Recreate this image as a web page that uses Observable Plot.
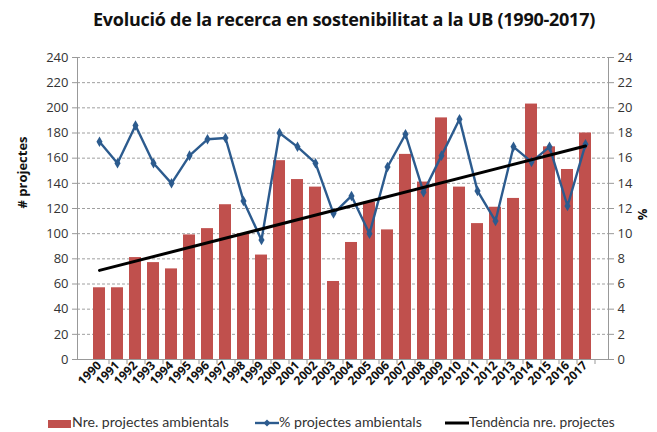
<!DOCTYPE html>
<html>
<head>
<meta charset="utf-8">
<script src="https://cdn.jsdelivr.net/npm/d3@7"></script>
<script src="https://cdn.jsdelivr.net/npm/@observablehq/plot@0.6"></script>
<style>
  body { margin: 0; background: #fff; font-family: "Open Sans", "Liberation Sans", sans-serif; }
  #wrap { width: 657px; height: 432px; position: relative; }
  #title { position: absolute; left: 0; top: 7px; width: 688px; text-align: center; font-weight: bold; font-size: 18px; color: #111; letter-spacing: -0.25px; }
  #chart { position: absolute; left: 0; top: 40px; }
  #legend { position: absolute; left: 0; top: 412px; width: 657px; height: 20px; font-family: Lato, "Open Sans", sans-serif; font-size: 14px; color: #333; }
  .li { position: absolute; top: 0px; height: 20px; display: flex; align-items: center; white-space: nowrap; }
</style>
</head>
<body>
<div id="wrap">
  <div id="title">Evolució de la recerca en sostenibilitat a la UB (1990-2017)</div>
  <div id="chart"></div>
  <div id="legend"></div>
</div>
<script>
const years = ["1990","1991","1992","1993","1994","1995","1996","1997","1998","1999","2000","2001","2002","2003","2004","2005","2006","2007","2008","2009","2010","2011","2012","2013","2014","2015","2016","2017"];
const projectes = [57,57,81,77,72,99,104,123,100,83,158,143,137,62,93,125,103,163,141,192,137,108,121,128,203,169,151,180];
const percentatge = [17.3,15.6,18.6,15.6,14.0,16.2,17.5,17.6,12.6,9.5,18.0,16.9,15.6,11.6,13.0,10.0,15.3,17.9,13.3,16.2,19.1,13.4,11.0,16.9,15.7,16.9,12.2,17.1];
const leftTicks = [0,20,40,60,80,100,120,140,160,180,200,220,240];
const rightTicks = [0,2,4,6,8,10,12,14,16,18,20,22,24];

const barColor = "#C0504D";
const lineColor = "#2C5B8E";

const data = years.map((y, i) => ({year: y, n: projectes[i], pct: percentatge[i]}));

// least-squares trend of the project counts
const n = projectes.length;
const mx = d3.mean(d3.range(n)), my = d3.mean(projectes);
const slope = d3.sum(d3.range(n), i => (i - mx) * (projectes[i] - my)) / d3.sum(d3.range(n), i => (i - mx) ** 2);
const trend = [0, n - 1].map(i => ({year: years[i], v: my + slope * (i - mx)}));

const chart = Plot.plot({
  width: 657,
  height: 372,
  marginLeft: 77,
  marginRight: 49,
  marginTop: 17,
  marginBottom: 53,
  style: {fontFamily: "'Open Sans', 'Liberation Sans', sans-serif", fontSize: "12.5px", color: "#333"},
  x: {domain: years, padding: 0.32, label: null},
  y: {domain: [0, 240], label: null},
  marks: [
    Plot.gridY(leftTicks, {stroke: "#777", strokeOpacity: 0.7, strokeDasharray: "3,2"}),
    Plot.barY(data, {x: "year", y: "n", fill: barColor}),
    Plot.ruleY([0], {stroke: "#999"}),
    Plot.frame({anchor: "left", stroke: "#999"}),
    Plot.frame({anchor: "right", stroke: "#999"}),
    Plot.line(data, {x: "year", y: d => d.pct * 10, stroke: lineColor, strokeWidth: 2.4}),
    Plot.dot(data, {x: "year", y: d => d.pct * 10, symbol: "diamond", r: 3.2, fill: lineColor}),
    Plot.line(trend, {x: "year", y: "v", stroke: "#000", strokeWidth: 3}),
    Plot.axisY({anchor: "left", ticks: leftTicks, tickSize: 5, tickPadding: 4, stroke: "#999", fontSize: 13, label: null}),
    Plot.axisY({anchor: "right", ticks: leftTicks, tickFormat: (d) => rightTicks[leftTicks.indexOf(d)], tickSize: 5, tickPadding: 4, stroke: "#999", fontSize: 13, label: null}),
    Plot.axisX({tickRotate: -45, tickSize: 0, tickPadding: 4, fontWeight: "bold", fontSize: 12, fill: "#111", label: null}),
    Plot.ruleX(years, {x: d => d, dx: 9.5, y1: 0, y2: 0, insetBottom: -5, stroke: "#999"}),
    Plot.text(["# projectes"], {frameAnchor: "left", dx: -55, rotate: -90, fontWeight: "bold", fontSize: 13, fill: "#111"}),
    Plot.text(["%"], {frameAnchor: "right", dx: 34, rotate: -90, fontWeight: "bold", fontSize: 13, fill: "#111"})
  ]
});
document.getElementById("chart").appendChild(chart);

const legendItems = [
  {label: "Nre. projectes ambientals", type: "bar", left: 48, width: 157},
  {label: "% projectes ambientals", type: "marker", left: 255, width: 143},
  {label: "Tendència nre. projectes", type: "trend", left: 445, width: 146}
];
const legend = d3.select("#legend");
const ctx = document.createElement("canvas").getContext("2d");
legendItems.forEach(item => {
  const div = legend.append("div").attr("class", "li").style("left", item.left + "px");
  const s = div.append("svg").attr("width", 24).attr("height", 20);
  if (item.type === "bar") s.append("rect").attr("x", 0).attr("y", 8).attr("width", 23).attr("height", 8).attr("fill", barColor);
  if (item.type === "marker") {
    s.append("line").attr("x1", 0).attr("x2", 24).attr("y1", 11).attr("y2", 11).attr("stroke", lineColor).attr("stroke-width", 2.4);
    s.append("path").attr("d", "M12,7.5L15.5,11L12,14.5L8.5,11Z").attr("fill", lineColor);
  }
  if (item.type === "trend") s.append("line").attr("x1", 0).attr("x2", 24).attr("y1", 11).attr("y2", 11).attr("stroke", "#000").attr("stroke-width", 3);
  // fit the label into the width it takes in the reference
  ctx.font = "14px Lato";
  const w = ctx.measureText(item.label).width;
  const fs = 14 * item.width / w;
  div.append("span").text(item.label).style("font-size", fs + "px").style("line-height", "20px");
});
</script>
</body>
</html>
